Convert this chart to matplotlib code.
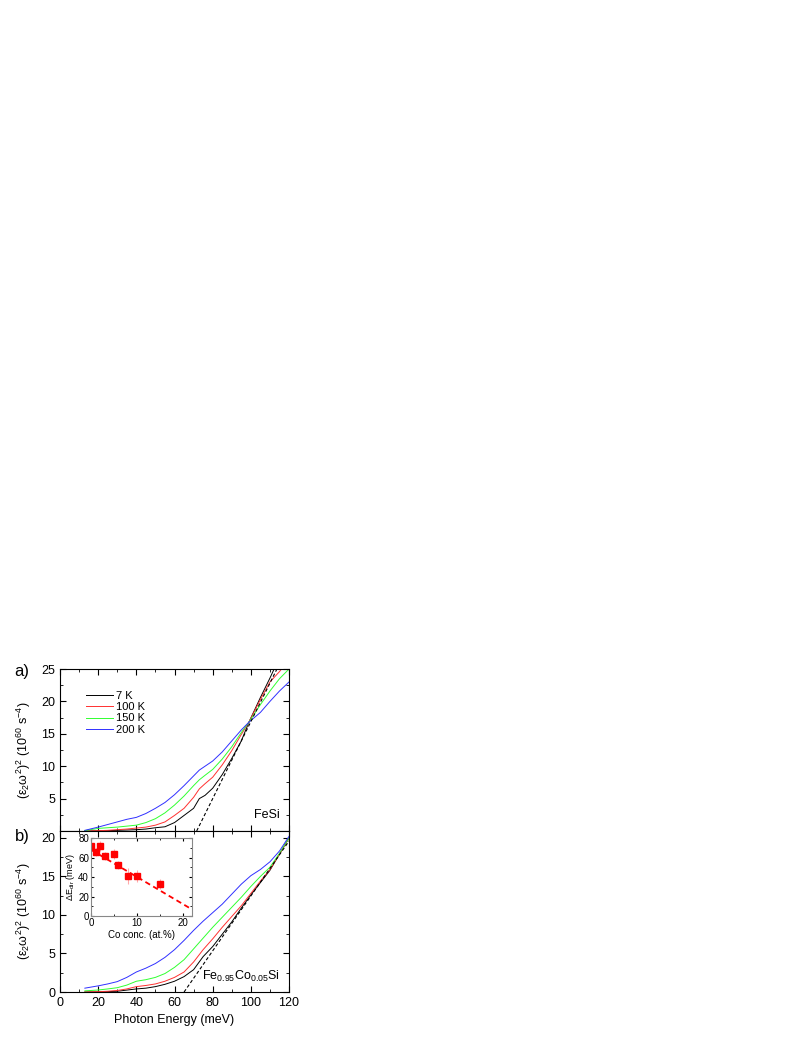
import numpy as np
import matplotlib
matplotlib.use('Agg')
import matplotlib.pyplot as plt
from matplotlib.ticker import MultipleLocator

plt.rcParams['font.family'] = ['Liberation Sans', 'DejaVu Sans']
plt.rcParams['mathtext.fontset'] = 'custom'
plt.rcParams['mathtext.rm'] = 'Liberation Sans'
plt.rcParams['mathtext.it'] = 'Liberation Sans'

# panel a) FeSi
xa = [13, 20, 25, 30, 35, 40, 45, 50, 55, 60, 65, 70, 73, 76, 80, 85, 90, 95, 99, 105, 110, 115, 120]
a_7K = [0, 0.02, 0.05, 0.1, 0.15, 0.2, 0.3, 0.5, 0.65, 1.3, 2.4, 3.5, 5.0, 5.5, 6.6, 8.7, 11.2, 13.9, 16.8, 20.6, 23.6, 26.8, 29.0]
a_100K = [0, 0.05, 0.1, 0.2, 0.3, 0.45, 0.6, 0.9, 1.4, 2.4, 3.5, 5.2, 6.5, 7.3, 8.3, 10.2, 12.4, 14.9, 16.8, 20.3, 23.0, 24.6, 26.5]
a_150K = [0.05, 0.4, 0.5, 0.6, 0.75, 0.9, 1.3, 1.9, 2.8, 4.0, 5.4, 7.0, 7.9, 8.6, 9.5, 11.1, 13.0, 15.2, 16.8, 19.5, 21.6, 23.5, 25.0]
a_200K = [0.1, 0.6, 1.0, 1.4, 1.8, 2.1, 2.7, 3.5, 4.4, 5.6, 7.0, 8.5, 9.4, 10.0, 10.8, 12.2, 13.9, 15.6, 16.8, 18.3, 20.0, 21.6, 23.0]
fit_a_x = [71.6, 114.0]
fit_a_y = [0, 25.2]

# panel b) Fe0.95Co0.05Si
xb = [13, 20, 25, 30, 35, 40, 45, 50, 55, 60, 65, 70, 75, 80, 85, 90, 95, 100, 105, 110, 115, 120]
b_7K = [0, 0.02, 0.05, 0.1, 0.25, 0.4, 0.5, 0.7, 1.0, 1.4, 2.0, 2.9, 4.6, 5.9, 7.5, 9.1, 10.9, 12.6, 14.2, 15.8, 17.9, 20.0]
b_100K = [0, 0.05, 0.1, 0.2, 0.4, 0.7, 0.85, 1.05, 1.4, 1.9, 2.6, 3.9, 5.5, 6.9, 8.4, 9.8, 11.2, 12.8, 14.4, 15.9, 17.9, 20.0]
b_150K = [0.15, 0.26, 0.4, 0.56, 0.9, 1.4, 1.6, 1.9, 2.4, 3.2, 4.2, 5.6, 7.0, 8.4, 9.7, 11.0, 12.3, 13.7, 15.0, 16.2, 18.0, 20.0]
b_200K = [0.5, 0.8, 1.05, 1.35, 1.9, 2.6, 3.1, 3.7, 4.5, 5.5, 6.7, 8.0, 9.2, 10.3, 11.4, 12.7, 14.0, 15.1, 15.9, 16.9, 18.3, 20.2]
fit_b_x = [65.0, 120.0]
fit_b_y = [0, 19.6]

# inset: gap vs Co concentration
co = [0, 1, 2, 3, 5, 6, 8, 10, 15]
gap = [72, 66, 72, 62, 64, 52, 41, 41, 33]
gap_err = [5, 4, 5, 4, 5, 4, 8, 6, 5]
gap_fit_x = [0, 22]
gap_fit_y = [68, 7]

labels = ['7 K', '100 K', '150 K', '200 K']
colors = ['black', '#ff3030', '#30ff30', '#3030ff']

fig = plt.figure(figsize=(8.08, 10.45), dpi=100)
ax_a = fig.add_axes([0.0743, 0.2048, 0.2834, 0.155])
ax_b = fig.add_axes([0.0743, 0.0507, 0.2834, 0.1541])

for ys, lab, c in zip([a_7K, a_100K, a_150K, a_200K], labels, colors):
    ax_a.plot(xa, ys, color=c, lw=0.7, label=lab)
ax_a.plot(fit_a_x, fit_a_y, 'k--', lw=0.8, dashes=(3, 2))
for ys, c in zip([b_7K, b_100K, b_150K, b_200K], colors):
    ax_b.plot(xb, ys, color=c, lw=0.7)
ax_b.plot(fit_b_x, fit_b_y, 'k--', lw=0.8, dashes=(3, 2))

for ax in (ax_a, ax_b):
    ax.set_xlim(0, 120)
    ax.xaxis.set_major_locator(MultipleLocator(20))
    ax.xaxis.set_minor_locator(MultipleLocator(10))
    ax.yaxis.set_major_locator(MultipleLocator(5))
    ax.yaxis.set_minor_locator(MultipleLocator(2.5))
    ax.tick_params(which='both', direction='in', top=True, right=True, labelsize=9)
    ax.tick_params(which='major', length=4)
    ax.tick_params(which='minor', length=2)
    ax.set_ylabel(r'($\epsilon_2\omega^2)^2$ (10$^{60}$ s$^{-4}$)', fontsize=9, labelpad=6)

ax_a.set_ylim(0, 25)
ax_a.set_yticks([5, 10, 15, 20, 25])
ax_a.tick_params(labelbottom=False)
ax_b.set_ylim(0, 20.9)
ax_b.set_xlabel('Photon Energy (meV)', fontsize=9)

ax_a.legend(loc='upper left', bbox_to_anchor=(0.09, 0.9), frameon=False, fontsize=8,
            handlelength=2.4, handletextpad=0.25, labelspacing=0.12, borderpad=0)
ax_a.text(0.96, 0.06, 'FeSi', transform=ax_a.transAxes, ha='right', va='bottom', fontsize=9)
ax_b.text(0.96, 0.05, r'Fe$_{0.95}$Co$_{0.05}$Si', transform=ax_b.transAxes, ha='right', va='bottom', fontsize=9)

fig.text(0.018, 0.357, 'a)', fontsize=12, va='center')
fig.text(0.018, 0.2, 'b)', fontsize=12, va='center')

ins = fig.add_axes([0.1126, 0.1234, 0.1246, 0.0746])
ins.errorbar(co, gap, yerr=gap_err, fmt='s', color='red', ms=4, ecolor='#ffaaaa', elinewidth=0.8, capsize=0)
ins.plot(gap_fit_x, gap_fit_y, '--', color='red', lw=1.3, dashes=(3, 2))
ins.set_xlim(0, 22)
ins.set_ylim(0, 80)
ins.xaxis.set_major_locator(MultipleLocator(10))
ins.xaxis.set_minor_locator(MultipleLocator(5))
ins.yaxis.set_major_locator(MultipleLocator(20))
ins.yaxis.set_minor_locator(MultipleLocator(10))
ins.tick_params(which='both', direction='in', top=True, right=True, labelsize=7, pad=1.5)
ins.tick_params(which='major', length=2.5)
ins.tick_params(which='minor', length=1.5)
for s in ins.spines.values():
    s.set_color('#888888')
ins.set_xlabel('Co conc. (at.%)', fontsize=7, labelpad=1)
ins.set_ylabel(r'$\Delta$E$_{dir}$ (meV)', fontsize=6.5, labelpad=1)

fig.savefig('out.png', dpi=100)
